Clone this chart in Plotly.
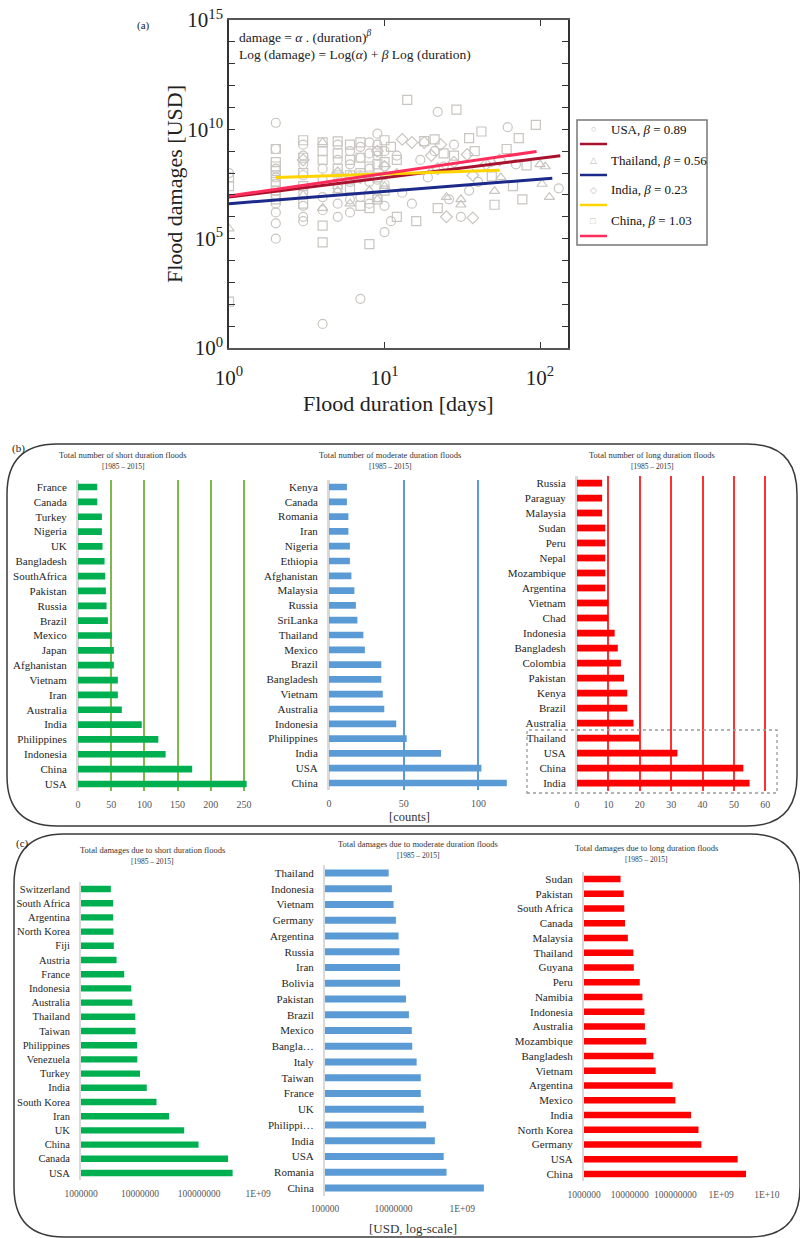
import numpy as np
import plotly.graph_objects as go

W, H = 800, 1238
def fx(p): return p / W
def fy(p): return 1 - p / H

SERIF = "Liberation Serif"

# ---------------- Panel (a): scatter data (duration in days, log10 damage USD)
usa_dur = [1, 2, 2, 2, 2, 2, 2, 2, 3, 3, 3, 3, 3, 3, 4, 4, 4, 4, 4, 5, 5, 5, 5, 6, 6, 6,
           7, 7, 7, 7, 7, 8, 8, 8, 9, 9, 9, 9, 9, 10, 10, 10,
           11, 12, 13, 15, 17, 19, 21, 22, 24, 26, 28, 31, 35, 40, 48, 62, 70, 132,
           2, 2, 2, 3, 3, 5, 5, 6, 6, 8, 8, 10, 10]
usa_logd = [8.0, 10.3, 8.2, 7.5, 7.0, 6.6, 5.7, 5.0, 8.8, 8.4, 7.9, 7.1, 6.5, 5.8,
            8.2, 7.7, 6.9, 6.3, 1.1, 9.3, 8.6, 7.3, 6.6, 8.4, 7.6, 6.2,
            9.2, 8.7, 7.9, 6.9, 2.25, 8.9, 7.6, 6.6, 9.8, 9.3, 8.8, 7.7, 6.9, 9.0, 7.5, 5.3,
            5.8, 8.8, 7.1, 6.6, 8.6, 7.8, 9.0, 10.8, 8.3, 6.8, 9.3, 6.0, 7.2, 7.6, 8.5, 10.1, 8.4, 7.3,
            9.1, 7.8, 6.2, 9.3, 6.0, 7.9, 6.0, 9.0, 6.8, 9.4, 8.2, 8.3, 6.5]

tha_dur = [1, 3, 4, 4, 5, 6, 6, 8, 9, 10, 12, 20, 25, 31, 31, 51, 56, 100, 103, 108, 115]
tha_logd = [5.46, 7.0, 9.4, 6.4, 7.2, 7.9, 6.6, 7.2, 6.8, 7.4, 8.0, 8.1, 6.9, 6.8, 6.55,
            7.17, 7.8, 8.4, 7.5, 8.3, 6.9]

ind_dur = [3, 5, 7, 9, 10, 13, 15, 18, 20, 22, 23, 25, 28, 34, 37, 37, 45, 55]
ind_logd = [8.6, 8.0, 7.8, 9.0, 8.3, 9.54, 9.4, 9.4, 8.8, 8.2, 9.3, 6.0, 8.5, 8.85, 7.9, 5.95, 8.4, 8.6]

chn_dur = [1, 1, 1, 2, 2, 2, 2, 2, 3, 3, 4, 4, 4, 4, 4, 5, 5, 5, 5, 6, 6, 7, 7, 7, 8, 8, 8,
           9, 9, 9, 10, 10, 11, 12, 12,
           14, 16, 18, 21, 22, 24, 28, 29, 35, 38, 42, 49, 51, 61, 67, 73, 77, 82, 94,
           2, 2, 2, 3, 3, 3, 6, 6, 7, 9, 10]
chn_logd = [7.8, 7.4, 2.12, 8.5, 8.3, 8.1, 7.9, 7.6, 8.0, 7.4, 9.4, 9.0, 8.6, 5.6, 4.83,
            9.45, 8.9, 8.2, 7.5, 8.6, 7.9, 8.7, 8.0, 6.5, 8.3, 6.4, 4.75, 9.0, 7.8, 6.8,
            8.5, 7.2, 9.2, 8.6, 6.0,
            11.35, 5.8, 9.46, 9.54, 6.4, 8.9, 8.8, 10.9, 9.6, 9.0, 9.9, 7.85, 6.55, 9.1,
            7.4, 9.6, 6.8, 8.35, 10.2,
            9.1, 7.2, 6.8, 9.5, 8.7, 6.6, 9.3, 7.3, 9.4, 8.4, 9.5]

fit_countries = ["USA", "Thailand", "India", "China"]
fit_beta = [0.89, 0.56, 0.23, 1.03]
fit_log_alpha = [6.9, 6.6, 7.73, 6.95]
fit_start = [1, 1, 2, 1]
fit_end = [135, 120, 55, 95]

# ---------------- Panel (b): counts
short_cnt_cat = ["France", "Canada", "Turkey", "Nigeria", "UK", "Bangladesh", "SouthAfrica",
                 "Pakistan", "Russia", "Brazil", "Mexico", "Japan", "Afghanistan", "Vietnam",
                 "Iran", "Australia", "India", "Philippines", "Indonesia", "China", "USA"]
short_cnt_val = [29, 29, 36, 36, 37, 40, 41, 42, 43, 45, 51, 54, 54, 60, 60, 66, 96, 121, 132, 172, 254]

mod_cnt_cat = ["Kenya", "Canada", "Romania", "Iran", "Nigeria", "Ethiopia", "Afghanistan",
               "Malaysia", "Russia", "SriLanka", "Thailand", "Mexico", "Brazil", "Bangladesh",
               "Vietnam", "Australia", "Indonesia", "Philippines", "India", "USA", "China"]
mod_cnt_val = [12, 12, 13, 13, 14, 14, 15, 17, 18, 19, 23, 24, 35, 35, 36, 37, 45, 52, 75, 102, 119]

long_cnt_cat = ["Russia", "Paraguay", "Malaysia", "Sudan", "Peru", "Nepal", "Mozambique",
                "Argentina", "Vietnam", "Chad", "Indonesia", "Bangladesh", "Colombia",
                "Pakistan", "Kenya", "Brazil", "Australia", "Thailand", "USA", "China", "India"]
long_cnt_val = [8, 8, 8, 9, 9, 9, 9, 9, 10, 10, 12, 13, 14, 15, 16, 16, 18, 20, 32, 53, 55]

# ---------------- Panel (c): damages (USD)
short_dmg_cat = ["Switzerland", "South Africa", "Argentina", "North Korea", "Fiji", "Austria",
                 "France", "Indonesia", "Australia", "Thailand", "Taiwan", "Philippines",
                 "Venezuela", "Turkey", "India", "South Korea", "Iran", "UK", "China", "Canada", "USA"]
short_dmg_val = [3.2e6, 3.5e6, 3.5e6, 3.55e6, 3.6e6, 4.0e6, 5.4e6, 7.1e6, 7.4e6, 8.3e6, 8.4e6,
                 8.9e6, 9.0e6, 1.0e7, 1.3e7, 1.9e7, 3.1e7, 5.6e7, 9.8e7, 3.1e8, 3.7e8]

mod_dmg_cat = ["Thailand", "Indonesia", "Vietnam", "Germany", "Argentina", "Russia", "Iran",
               "Bolivia", "Pakistan", "Brazil", "Mexico", "Bangla…", "Italy", "Taiwan", "France",
               "UK", "Philippi…", "India", "USA", "Romania", "China"]
mod_dmg_val = [7.2e6, 8.9e6, 1.0e7, 1.17e7, 1.4e7, 1.48e7, 1.55e7, 1.55e7, 2.3e7, 2.8e7, 3.4e7,
               3.5e7, 4.7e7, 6.2e7, 6.2e7, 7.6e7, 8.9e7, 1.6e8, 2.9e8, 3.5e8, 4.3e9]

long_dmg_cat = ["Sudan", "Pakistan", "South Africa", "Canada", "Malaysia", "Thailand", "Guyana",
                "Peru", "Namibia", "Indonesia", "Australia", "Mozambique", "Bangladesh", "Vietnam",
                "Argentina", "Mexico", "India", "North Korea", "Germany", "USA", "China"]
long_dmg_val = [6.3e6, 7.4e6, 7.6e6, 7.9e6, 9.1e6, 1.2e7, 1.23e7, 1.66e7, 1.9e7, 2.1e7, 2.15e7,
                2.3e7, 3.3e7, 3.7e7, 8.7e7, 1.0e8, 2.2e8, 3.2e8, 3.7e8, 2.3e9, 3.5e9]

fig = go.Figure()

# ---------------- Panel (a) traces
MARK_COL = "#c9c5c0"
for dur, logd, sym in [(usa_dur, usa_logd, "circle-open"), (tha_dur, tha_logd, "triangle-up-open"),
                       (ind_dur, ind_logd, "diamond-open"), (chn_dur, chn_logd, "square-open")]:
    fig.add_trace(go.Scatter(x=dur, y=10 ** np.array(logd), mode="markers",
                             marker=dict(symbol=sym, size=9, color=MARK_COL, line=dict(width=1.2)),
                             xaxis="x", yaxis="y", showlegend=False, hoverinfo="skip"))

fit_colors = ["#a8122e", "#1b2a8a", "#ffd400", "#ff2d5c"]
for i in range(4):
    xs = np.array([fit_start[i], fit_end[i]], dtype=float)
    ys = 10 ** (fit_log_alpha[i] + fit_beta[i] * np.log10(xs))
    fig.add_trace(go.Scatter(x=xs, y=ys, mode="lines", line=dict(color=fit_colors[i], width=3),
                             xaxis="x", yaxis="y", showlegend=False, hoverinfo="skip"))

# ---------------- Bar panels
BAR_GREEN = "#00b050"
BAR_BLUE = "#5b9bd5"
BAR_RED = "#ff0000"
panels = [
    (2, short_cnt_cat, short_cnt_val, BAR_GREEN),
    (3, mod_cnt_cat, mod_cnt_val, BAR_BLUE),
    (4, long_cnt_cat, long_cnt_val, BAR_RED),
    (5, short_dmg_cat, short_dmg_val, BAR_GREEN),
    (6, mod_dmg_cat, mod_dmg_val, BAR_BLUE),
    (7, long_dmg_cat, long_dmg_val, BAR_RED),
]
for idx, cats, vals, col in panels:
    fig.add_trace(go.Bar(x=vals, y=cats, orientation="h", marker=dict(color=col, line=dict(width=0)),
                         xaxis=f"x{idx}", yaxis=f"y{idx}", showlegend=False, hoverinfo="skip"))

layout = dict(
    template="none",
    width=W, height=H, margin=dict(l=0, r=0, t=0, b=0, pad=0), autosize=False,
    paper_bgcolor="white", plot_bgcolor="white", showlegend=False,
    bargap=0.55, font=dict(family=SERIF, color="#222"),
)

# Panel (a) axes
layout["xaxis"] = dict(type="log", range=[0, 2.18], domain=[fx(229), fx(568)], anchor="y",
                       automargin=False, ticklabelstandoff=10,
                       tickvals=[1, 10, 100], ticktext=["10<sup>0</sup>", "10<sup>1</sup>", "10<sup>2</sup>"],
                       ticks="inside", ticklen=6, tickcolor="#333", mirror="ticks", showline=True,
                       linecolor="#555", linewidth=1.5, showgrid=False, zeroline=False,
                       tickfont=dict(family=SERIF, size=21, color="#222"))
layout["yaxis"] = dict(type="log", range=[0, 15], domain=[fy(348), fy(20)], anchor="x",
                       automargin=False,
                       tickvals=[1, 1e5, 1e10, 1e15],
                       ticktext=["10<sup>0</sup>", "10<sup>5</sup>", "10<sup>10</sup>", "10<sup>15</sup>"],
                       ticks="inside", ticklen=6, tickcolor="#333",
                       minor=dict(ticks="inside", ticklen=6, tickcolor="#333", tickmode="array",
                                  tickvals=[10 ** i for i in range(16)], showgrid=False),
                       mirror="ticks", showline=True, linecolor="#333", linewidth=1.5,
                       showgrid=False, zeroline=False,
                       tickfont=dict(family=SERIF, size=21, color="#222"))

def cat_axis(idx, top, bottom, cats, size=11):
    return dict(domain=[fy(bottom), fy(top)], anchor=f"x{idx}", type="category",
                automargin=False,
                autorange="reversed", showgrid=False, zeroline=False, showline=True,
                linecolor="#d9d9d9", linewidth=2, ticks="", ticklabelstandoff=7,
                tickmode="array", tickvals=cats, ticktext=cats,
                tickfont=dict(family=SERIF, size=size, color="#262626"), fixedrange=True)

def lin_axis(idx, left, right, rng, tv, gridcol):
    return dict(domain=[fx(left), fx(right)], anchor=f"y{idx}", range=rng, tickvals=tv,
                automargin=False,
                showgrid=True, gridcolor=gridcol, gridwidth=1.5, zeroline=True,
                zerolinecolor="#d9d9d9", zerolinewidth=2, showline=False,
                ticks="outside", ticklen=4, tickcolor="rgba(0,0,0,0)",
                tickfont=dict(family=SERIF, size=10, color="#555"))

def log_axis(idx, left, right, rng, tv, tt):
    return dict(domain=[fx(left), fx(right)], anchor=f"y{idx}", type="log", range=rng,
                automargin=False,
                tickvals=tv, ticktext=tt, showgrid=False, zeroline=False, showline=False,
                ticks="outside", ticklen=4, tickcolor="rgba(0,0,0,0)",
                tickfont=dict(family=SERIF, size=9.5, color="#555"))

layout["xaxis2"] = lin_axis(2, 78, 249.3, [0, 258], [0, 50, 100, 150, 200, 250], "#7cb84a")
layout["yaxis2"] = cat_axis(2, 479.6, 791.4, short_cnt_cat)
layout["xaxis3"] = lin_axis(3, 329, 509.8, [0, 121], [0, 50, 100], "#5b9bd5")
layout["yaxis3"] = cat_axis(3, 479.6, 790.4, mod_cnt_cat)
layout["xaxis4"] = lin_axis(4, 577, 770, [0, 61.5], [0, 10, 20, 30, 40, 50, 60], "#ff3030")
layout["yaxis4"] = cat_axis(4, 475.5, 790.5, long_cnt_cat)

layout["xaxis5"] = log_axis(5, 81, 264, [6, 9.1], [1e6, 1e7, 1e8, 1e9],
                            ["1000000", "10000000", "100000000", "1E+09"])
layout["yaxis5"] = cat_axis(5, 881.9, 1180.1, short_dmg_cat, 10.5)
layout["xaxis6"] = log_axis(6, 325, 489.6, [5, 9.8], [1e5, 1e7, 1e9], ["100000", "10000000", "1E+09"])
layout["yaxis6"] = cat_axis(6, 865.1, 1195.9, mod_dmg_cat)
layout["xaxis7"] = log_axis(7, 584, 771.4, [6, 10.1], [1e6, 1e7, 1e8, 1e9, 1e10],
                            ["1000000", "10000000", "100000000", "1E+09", "1E+10"])
layout["yaxis7"] = cat_axis(7, 871.6, 1181.4, long_dmg_cat)

fig.update_layout(**layout)

shapes = []
# gridlines for log bar panels
log_grids = [(5, [1e7, 1e8, 1e9], "#7fd6a0"), (6, [1e7, 1e9], "#1f74d0"),
             (7, [1e7, 1e8, 1e9, 1e10], "#e8141c")]
for idx, gv, gc in log_grids:
    for v in gv:
        shapes.append(dict(type="line", xref=f"x{idx}", yref=f"y{idx} domain",
                           x0=np.log10(v), x1=np.log10(v), y0=0, y1=1,
                           line=dict(color=gc, width=1.5), layer="below"))

# rounded panel borders
def rounded(x0, y0, x1, y1, r):
    rx, ry = r / W, r / H
    X0, X1, Y0, Y1 = fx(x0), fx(x1), fy(y0), fy(y1)
    return (f"M {X0+rx},{Y0} L {X1-rx},{Y0} Q {X1},{Y0} {X1},{Y0-ry} "
            f"L {X1},{Y1+ry} Q {X1},{Y1} {X1-rx},{Y1} L {X0+rx},{Y1} "
            f"Q {X0},{Y1} {X0},{Y1+ry} L {X0},{Y0-ry} Q {X0},{Y0} {X0+rx},{Y0} Z")

shapes.append(dict(type="path", xref="paper", yref="paper", path=rounded(7, 444, 797, 826, 50),
                   line=dict(color="#3a3a3a", width=1.5)))
shapes.append(dict(type="path", xref="paper", yref="paper", path=rounded(14, 834, 800, 1237, 50),
                   line=dict(color="#3a3a3a", width=1.5)))
# dashed highlight box in (b) right
shapes.append(dict(type="rect", xref="paper", yref="paper", x0=fx(527), x1=fx(777),
                   y0=fy(793), y1=fy(730), line=dict(color="#9a9a9a", width=1.3, dash="dot")))

# manual legend for panel (a)
shapes.append(dict(type="rect", xref="paper", yref="paper", x0=fx(577), x1=fx(707),
                   y0=fy(245), y1=fy(120), line=dict(color="#777", width=1.5),
                   fillcolor="white"))
annotations = []
leg_sym = ["○", "△", "◇", "□"]
leg_rows = [129, 160, 190, 221]
for i in range(4):
    yr = leg_rows[i]
    shapes.append(dict(type="line", xref="paper", yref="paper", x0=fx(580), x1=fx(607),
                       y0=fy(yr + 15), y1=fy(yr + 15), line=dict(color=fit_colors[i], width=2.5)))
    annotations.append(dict(x=fx(593), y=fy(yr), xref="paper", yref="paper", text=leg_sym[i],
                            showarrow=False, font=dict(size=9, color="#bdb9b4"),
                            xanchor="center", yanchor="middle"))
    annotations.append(dict(x=fx(609), y=fy(yr), xref="paper", yref="paper",
                            text=f"{fit_countries[i]}, <i>β</i> = {fit_beta[i]:.2f}",
                            showarrow=False, font=dict(family=SERIF, size=13, color="#111"),
                            xanchor="left", yanchor="middle"))

def ann(x, y, text, size, anchor="center", angle=0, color="#222"):
    annotations.append(dict(x=fx(x), y=fy(y), xref="paper", yref="paper", text=text,
                            showarrow=False, textangle=angle, xanchor=anchor, yanchor="middle",
                            font=dict(family=SERIF, size=size, color=color)))

ann(143, 25, "(a)", 11)
ann(237, 37, "damage = <i>α</i> . (duration)<sup><i>β</i></sup>", 13.5, "left")
ann(237, 55, "Log (damage) = Log(<i>α</i>) + <i>β</i> Log (duration)", 13.5, "left")
ann(174, 184, "Flood damages [USD]", 22, angle=-90)
ann(398, 403, "Flood duration [days]", 22)

ann(18, 448, "(b)", 11)
ann(22, 843, "(c)", 11)

sub_titles = [
    (123, 455, "Total number of short duration floods"),
    (390, 455, "Total number of moderate duration floods"),
    (652, 455, "Total number of long duration floods"),
    (152, 850, "Total damages due to short duration floods"),
    (418, 844, "Total damages due to moderate duration floods"),
    (646, 848, "Total damages due to long duration floods"),
]
for x, y, t in sub_titles:
    ann(x, y, t, 8.5, color="#333")
    ann(x, y + 11, "[1985 – 2015]", 7.5, color="#333")

ann(410, 817, "[counts]", 12.5, color="#333")
ann(413, 1228, "[USD, log-scale]", 13, color="#333")

fig.update_layout(shapes=shapes, annotations=annotations)

fig.write_html("out.html", config={"displayModeBar": False},
               post_script="document.body.style.margin='0';")
